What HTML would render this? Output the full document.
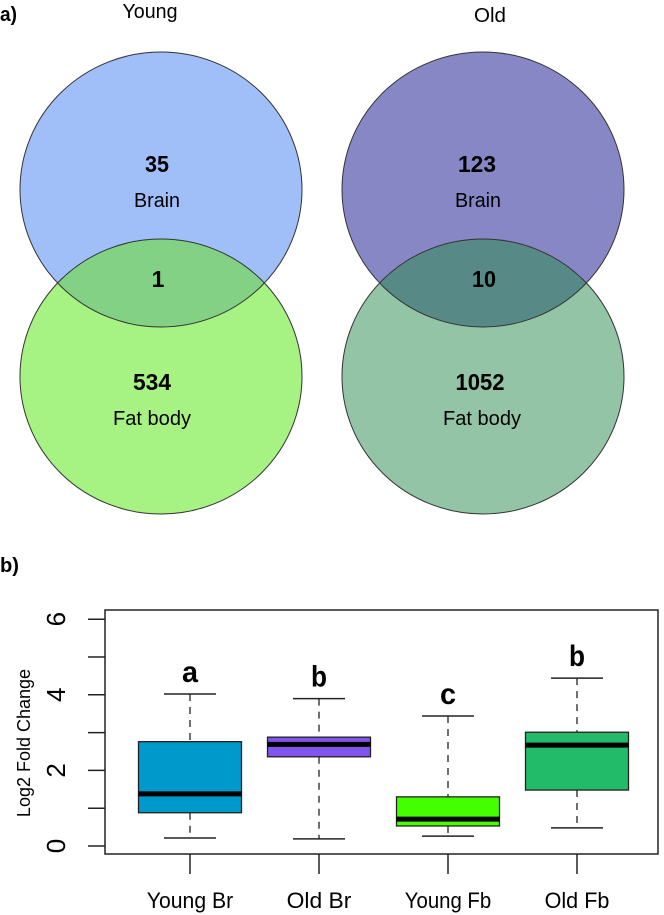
<!DOCTYPE html>
<html><head><meta charset="utf-8"><style>html,body{margin:0;padding:0;background:#fff}svg{display:block}</style></head>
<body>
<svg width="664" height="915" viewBox="0 0 664 915" xmlns="http://www.w3.org/2000/svg" font-family="Liberation Sans, sans-serif">
<defs>
<clipPath id="cy"><ellipse cx="161" cy="189.5" rx="141" ry="137.5"/></clipPath>
<clipPath id="co"><ellipse cx="483" cy="189.5" rx="141" ry="137.5"/></clipPath>
</defs>
<text x="0" y="21" font-size="20" font-weight="bold" textLength="17" lengthAdjust="spacingAndGlyphs">a)</text>
<text x="150" y="18" font-size="20" text-anchor="middle" textLength="55" lengthAdjust="spacingAndGlyphs">Young</text>
<text x="490" y="22" font-size="20" text-anchor="middle" textLength="32" lengthAdjust="spacingAndGlyphs">Old</text>
<g>
<ellipse cx="161" cy="189.5" rx="141" ry="137.5" fill="#a0bef8"/>
<ellipse cx="161" cy="376.5" rx="141" ry="137.5" fill="#a6f283"/>
<ellipse cx="161" cy="376.5" rx="141" ry="137.5" fill="#82d184" clip-path="url(#cy)"/>
<ellipse cx="161" cy="189.5" rx="141" ry="137.5" fill="none" stroke="#333" stroke-width="1"/>
<ellipse cx="161" cy="376.5" rx="141" ry="137.5" fill="none" stroke="#333" stroke-width="1"/>
<text x="157" y="172" font-size="23" font-weight="bold" text-anchor="middle" textLength="24" lengthAdjust="spacingAndGlyphs">35</text>
<text x="157" y="207" font-size="20" text-anchor="middle" textLength="46" lengthAdjust="spacingAndGlyphs">Brain</text>
<text x="158" y="287" font-size="23" font-weight="bold" text-anchor="middle">1</text>
<text x="152" y="390" font-size="23" font-weight="bold" text-anchor="middle" textLength="38" lengthAdjust="spacingAndGlyphs">534</text>
<text x="152" y="425" font-size="20" text-anchor="middle" textLength="78" lengthAdjust="spacingAndGlyphs">Fat body</text>
</g>
<g>
<ellipse cx="483" cy="189.5" rx="141" ry="137.5" fill="#8787c6"/>
<ellipse cx="483" cy="376.5" rx="141" ry="137.5" fill="#93c4a6"/>
<ellipse cx="483" cy="376.5" rx="141" ry="137.5" fill="#578a87" clip-path="url(#co)"/>
<ellipse cx="483" cy="189.5" rx="141" ry="137.5" fill="none" stroke="#333" stroke-width="1"/>
<ellipse cx="483" cy="376.5" rx="141" ry="137.5" fill="none" stroke="#333" stroke-width="1"/>
<text x="477" y="172" font-size="23" font-weight="bold" text-anchor="middle" textLength="38" lengthAdjust="spacingAndGlyphs">123</text>
<text x="478" y="207" font-size="20" text-anchor="middle" textLength="46" lengthAdjust="spacingAndGlyphs">Brain</text>
<text x="484" y="287" font-size="23" font-weight="bold" text-anchor="middle" textLength="24" lengthAdjust="spacingAndGlyphs">10</text>
<text x="480" y="390" font-size="23" font-weight="bold" text-anchor="middle" textLength="49" lengthAdjust="spacingAndGlyphs">1052</text>
<text x="482" y="425" font-size="20" text-anchor="middle" textLength="78" lengthAdjust="spacingAndGlyphs">Fat body</text>
</g>
<text x="0" y="572" font-size="20" font-weight="bold" textLength="19" lengthAdjust="spacingAndGlyphs">b)</text>
<g id="chart"></g>
<script>
const categories=["Young Br","Old Br","Young Fb","Old Fb"];
const lowWhisker=[0.21,0.19,0.26,0.48];
const q1=[0.88,2.36,0.53,1.48];
const median=[1.38,2.69,0.71,2.67];
const q3=[2.76,2.88,1.30,3.01];
const highWhisker=[4.02,3.90,3.44,4.44];
const letters=["a","b","c","b"];
const colors=["#0099cc","#7f55ee","#44ff00","#22bb6a"];
const yTicks=[0,1,2,3,4,5,6];
const yTickLabels=["0","","2","","4","","6"];
const NS="http://www.w3.org/2000/svg";
const g=document.getElementById('chart');
const X0=105,X1=658,Y0=610,Y1=854;
const y=v=>846-v*37.8;
const x=i=>190+i*129;
function el(t,a,p){const e=document.createElementNS(NS,t);for(const k in a)e.setAttribute(k,a[k]);(p||g).appendChild(e);return e;}
const frame=el('rect',{x:X0,y:Y0,width:X1-X0,height:Y1-Y0,fill:'none',stroke:'#222','stroke-width':1.5});


yTicks.forEach((t,i)=>{
 const l=el('line',{x1:88,x2:X0,y1:y(t),y2:y(t),stroke:'#222','stroke-width':1.5});
 
 
 if(yTickLabels[i]){
  const tx=el('text',{x:0,y:0,'font-size':26,'text-anchor':'middle',transform:`translate(65,${y(t)}) rotate(-90)`});
  
  
  tx.textContent=yTickLabels[i];
 }
});
const yl=el('text',{x:0,y:0,'font-size':18,'text-anchor':'middle',transform:'translate(30,743) rotate(-90)'});


yl.textContent='Log2 Fold Change';
categories.forEach((c,i)=>{
 const cx=x(i),hw=51.5,cw=26;
 const grp=el('g',{});
 
 
 el('line',{x1:cx,x2:cx,y1:y(highWhisker[i]),y2:y(q3[i]),stroke:'#222','stroke-width':1.3,'stroke-dasharray':'7,6'},grp);
 el('line',{x1:cx,x2:cx,y1:y(q1[i]),y2:y(lowWhisker[i]),stroke:'#222','stroke-width':1.3,'stroke-dasharray':'7,6'},grp);
 el('line',{x1:cx-cw,x2:cx+cw,y1:y(highWhisker[i]),y2:y(highWhisker[i]),stroke:'#222','stroke-width':1.5},grp);
 el('line',{x1:cx-cw,x2:cx+cw,y1:y(lowWhisker[i]),y2:y(lowWhisker[i]),stroke:'#222','stroke-width':1.5},grp);
 el('rect',{x:cx-hw,y:y(q3[i]),width:2*hw,height:y(q1[i])-y(q3[i]),fill:colors[i],stroke:'#222','stroke-width':1.3},grp);
 el('line',{x1:cx-hw,x2:cx+hw,y1:y(median[i]),y2:y(median[i]),stroke:'#000','stroke-width':5},grp);
 const lt=el('text',{x:cx,y:y(highWhisker[i])-12,'font-size':30,'font-weight':'bold','text-anchor':'middle',textLength:16,lengthAdjust:'spacingAndGlyphs'},grp);
 
 
 lt.textContent=letters[i];
 const tk=el('line',{x1:cx,x2:cx,y1:Y1,y2:874,stroke:'#222','stroke-width':1.5});
 
 
 const xl=el('text',{x:cx,y:908,'font-size':22,'text-anchor':'middle',textLength:c.length*10.8,lengthAdjust:'spacingAndGlyphs'});
 
 
 xl.textContent=c;
});
</script>
</svg>
</body></html>
